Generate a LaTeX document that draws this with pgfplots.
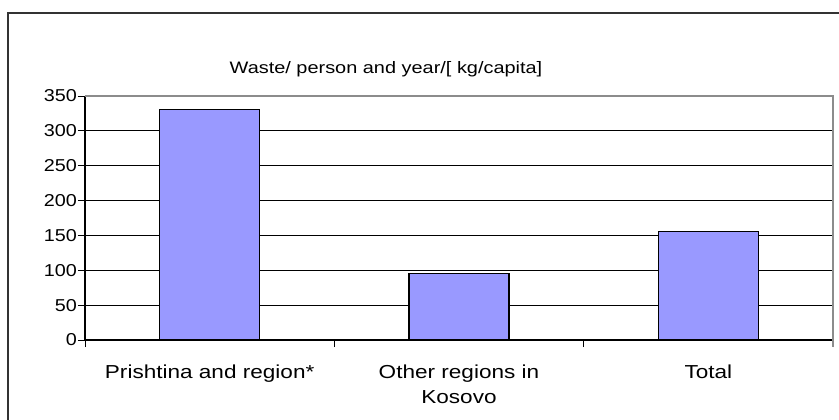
\documentclass[border=0pt]{standalone}
\usepackage{fontspec}
\setmainfont{Liberation Sans}[FakeStretch=1.2]
\newfontfamily\ytfont{Liberation Sans}[FakeStretch=1.15]
\usepackage{pgfplots}
\pgfplotsset{compat=1.18}
\definecolor{barblue}{HTML}{9999FF}
\begin{document}
\begin{tikzpicture}[x=1pt,y=1pt]
\useasboundingbox (0,0) rectangle (839,-420);
\begin{scope}
\clip (0,0) rectangle (839,-420);
\draw[line width=1.3pt, color=black!80] (8,-440) -- (8,-13) -- (860,-13);
\end{scope}
\node[anchor=base, inner sep=0pt, font=\fontsize{16.6}{19}\selectfont] at (386,-73.5) {Waste/ person and year/[ kg/capita]};
\begin{axis}[at={(85pt,-340pt)}, anchor=south west, scale only axis,
  width=748pt, height=244pt,
  xmin=-0.5, xmax=2.5, ymin=0, ymax=350,
  ytick={0,50,...,350},
  xtick={0,1,2},
  xticklabels={Prishtina and region*, {Other regions in\\Kosovo}, Total},
  minor xtick={-0.5,0.5,1.5,2.5},
  major x tick style={draw=none},
  tick align=outside, major tick length=7pt, minor tick length=7pt,
  tick style={black, line width=1pt},
  ymajorgrids, grid style={black, line width=1pt},
  axis x line*=bottom, axis y line*=left,
  axis line style={black, line width=1.3pt, -},
  /pgf/number format/assume math mode=true,
  xticklabel style={font=\fontsize{18.8}{25}\selectfont, align=center, anchor=north, inner sep=0pt, yshift=-18pt},
  yticklabel style={font=\ytfont\fontsize{17.2}{20}\selectfont, anchor=east, inner sep=0pt, xshift=-1pt},
  ybar, bar width=100pt,
  after end axis/.code={\draw[black!45, line width=1.3pt] (rel axis cs:0,1) -- (rel axis cs:1,1) -- (rel axis cs:1,0) -- ([yshift=-7pt]rel axis cs:1,0);},
]
\addplot[fill=barblue, draw=black, line width=1.3pt] coordinates {(0,331) (1,95) (2,156)};
\end{axis}
\end{tikzpicture}
\end{document}
